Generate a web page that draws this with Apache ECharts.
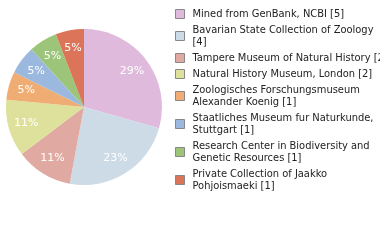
<!DOCTYPE html>
<html><head><meta charset="utf-8">
<script src="https://cdn.jsdelivr.net/npm/echarts@6/dist/echarts.min.js"></script>
<style>html,body{margin:0;padding:0;background:#fff}#c{width:380px;height:240px}</style>
</head><body><div id="c"></div>
<script>
var categories = [
  "Mined from GenBank, NCBI [5]",
  "Bavarian State Collection of Zoology\n[4]",
  "Tampere Museum of Natural History [2]",
  "Natural History Museum, London [2]",
  "Zoologisches Forschungsmuseum\nAlexander Koenig [1]",
  "Staatliches Museum fur Naturkunde,\nStuttgart [1]",
  "Research Center in Biodiversity and\nGenetic Resources [1]",
  "Private Collection of Jaakko\nPohjoismaeki [1]"
];
var values = [5, 4, 2, 2, 1, 1, 1, 1];
var colors = ["#dfbadc", "#cddbe6", "#e0a9a1", "#dde19c", "#f0ad73", "#9bb8df", "#9dc57a", "#db7458"];

var total = values.reduce(function(a,b){return a+b;},0);
var data = categories.map(function(n,i){return {name:n, value:values[i], itemStyle:{color:colors[i]}};});

var chart = echarts.init(document.getElementById('c'), null, {renderer:'canvas'});
chart.setOption({
  animation:false,
  legend:{
    orient:'vertical', left:170, top:3,
    itemWidth:9, itemHeight:9, itemGap:4,
    icon:'rect',
    itemStyle:{borderColor:'#888', borderWidth:1},
    textStyle:{fontFamily:'DejaVu Sans Condensed', fontSize:11, color:'#222', lineHeight:12, padding:[0,0,0,3]},
    selectedMode:false,
    data: categories
  },
  series:[{
    type:'pie', center:[84,107], radius:78, startAngle:90, clockwise:true,
    label:{show:false}, labelLine:{show:false}, silent:true,
    data:data
  },{
    type:'pie', center:[84,107], radius:[36,78], startAngle:90, clockwise:true,
    silent:true, labelLine:{show:false},
    itemStyle:{color:'rgba(0,0,0,0)'},
    label:{show:true, position:'inside', color:'#fff', fontFamily:'DejaVu Sans', fontSize:11,
      formatter:function(p){return Math.floor(p.value/total*100)+'%';}},
    data: values.map(function(v,i){return {name:'_'+i, value:v};})
  }]
});
</script></body></html>
